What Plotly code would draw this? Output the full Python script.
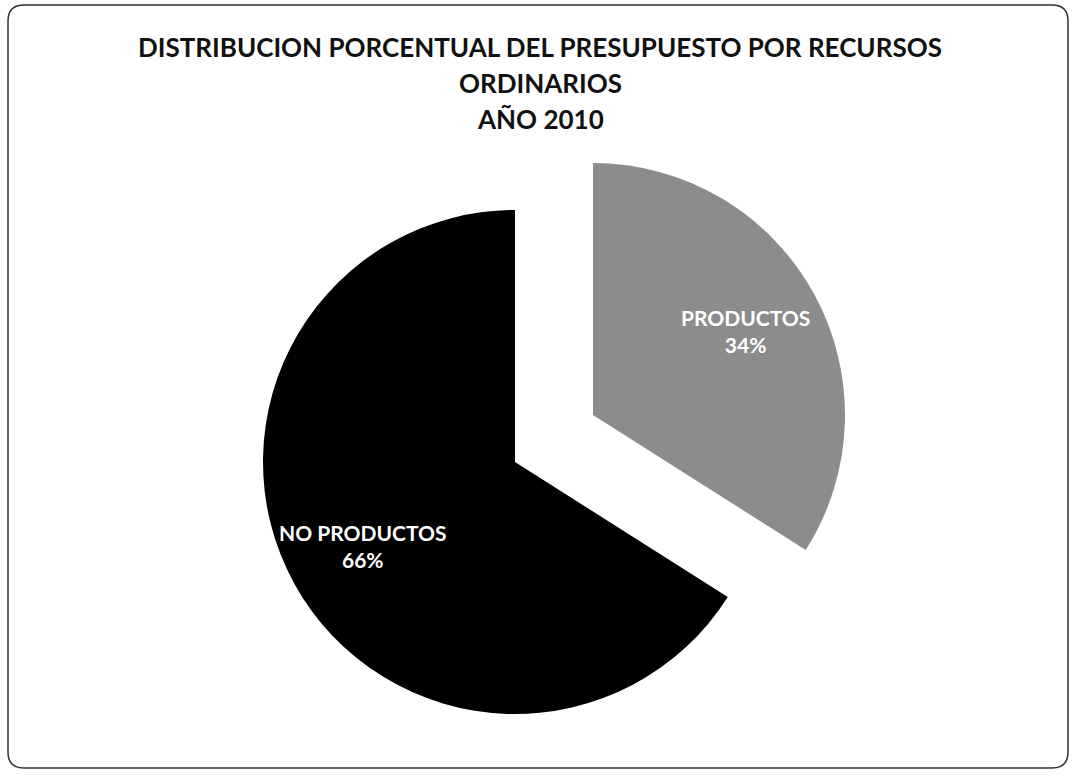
import math
import plotly.graph_objects as go

labels = ["PRODUCTOS", "NO PRODUCTOS"]
values = [34, 66]
title_lines = ["DISTRIBUCION PORCENTUAL DEL PRESUPUESTO POR RECURSOS", "ORDINARIOS", "AÑO 2010"]
colors = ["#8c8c8c", "#000000"]

W, H = 1077, 778
R = 252            # pie radius in px
cx, cy = 515, 462  # centre of the main pie in px
pull_px = (78, -47)  # offset of the exploded slice
label_r = 0.69     # radial position of the slice labels (fraction of R)

def dom(cx_, cy_):
    return dict(x=[(cx_ - R) / W, (cx_ + R) / W],
                y=[1 - (cy_ + R) / H, 1 - (cy_ - R) / H])

total = sum(values)
fig = go.Figure()
cum = 0
for i, (dx, dy) in enumerate([pull_px, (0, 0)]):
    # i==0 -> exploded grey slice (PRODUCTOS); i==1 -> black slice (NO PRODUCTOS)
    cols = ["rgba(0,0,0,0)"] * len(values)
    cols[i] = colors[i]
    fig.add_trace(go.Pie(
        labels=labels, values=values, sort=False, direction="clockwise", rotation=0,
        marker=dict(colors=cols, line=dict(width=0)),
        textinfo="none", hoverinfo="skip", showlegend=False,
        domain=dom(cx + dx, cy + dy),
    ))
    # label at the slice bisector
    mid = (cum + values[i] / 2) / total * 2 * math.pi
    cum += values[i]
    px = cx + dx + label_r * R * math.sin(mid)
    py = cy + dy - label_r * R * math.cos(mid)
    pct = round(100 * values[i] / total)
    fig.add_annotation(text=f"{labels[i]}<br>{pct}%", x=px / W, y=1 - py / H,
                       xref="paper", yref="paper", showarrow=False,
                       xanchor="center", yanchor="middle",
                       font=dict(family="Lato", size=21, color="white", weight="bold"))

ys = [47, 83, 119]
for line, yp in zip(title_lines, ys):
    fig.add_annotation(text=line, x=0.5015, y=1 - yp / H, xref="paper", yref="paper",
                       showarrow=False, xanchor="center", yanchor="middle",
                       font=dict(family="Lato", size=26, color="#111", weight="bold"))

# rounded frame
x0, x1 = 8 / W, 1068 / W
y0, y1 = 1 - 768 / H, 1 - 5 / H
rx, ry = 16 / W, 16 / H
path = (f"M {x0+rx},{y1} L {x1-rx},{y1} Q {x1},{y1} {x1},{y1-ry} L {x1},{y0+ry} "
        f"Q {x1},{y0} {x1-rx},{y0} L {x0+rx},{y0} Q {x0},{y0} {x0},{y0+ry} "
        f"L {x0},{y1-ry} Q {x0},{y1} {x0+rx},{y1} Z")
fig.add_shape(type="path", path=path, xref="paper", yref="paper",
              line=dict(color="#333", width=1.5))

fig.update_layout(width=W, height=H, margin=dict(l=0, r=0, t=0, b=0),
                  paper_bgcolor="white", plot_bgcolor="white")
fig.write_html("out.html")
